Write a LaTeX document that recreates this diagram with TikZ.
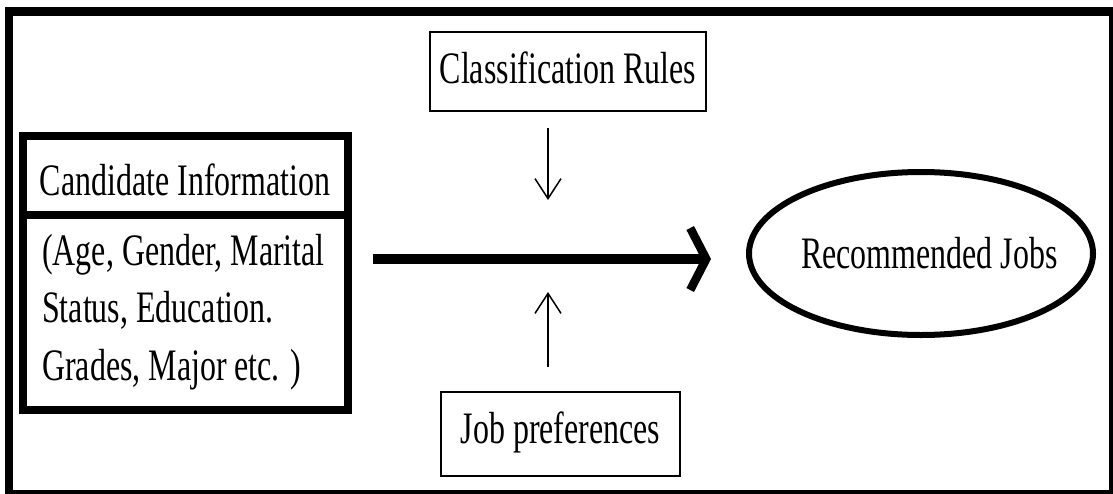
\documentclass[tikz,border=0pt]{standalone}
\usepackage{fontspec}
\setmainfont{Liberation Serif}[FakeStretch=0.71]
\usetikzlibrary{arrows.meta,shapes.geometric}
\begin{document}
\begin{tikzpicture}[x=1pt,y=-1pt,
  lbl/.style={font=\fontsize{45}{57.5}\selectfont},
  thinbox/.style={draw, line width=2pt, inner sep=0pt, lbl},
  thickbox/.style={draw, line width=8pt, inner sep=0pt, lbl},
  feed/.style={line width=1.5pt, -{Straight Barb[length=20pt,width=26pt]}},
  flow/.style={line width=10pt, -{Straight Barb[length=16pt,width=62pt,line width=8.5pt,sharp]}}
]
\useasboundingbox (0,0) rectangle (1113,493);
\clip (0,0) rectangle (1113,493);

% outer frame
\draw[line width=8.5pt] (9,11.5) rectangle (1113,494.5);

% candidate block: header and attribute list
\node[thickbox, minimum width=325pt, minimum height=78.5pt,
      text height=39.5pt, text depth=0pt] (candHead) at (185,175.25) {Candidate Information};
\node[thickbox, minimum width=325pt, minimum height=195.5pt] (candBody) at (185,312.25) {};
% base anchor of a multi-line node sits on its last line
\node[lbl, anchor=base west, align=left, inner sep=0pt] (candText) at (42,380)
  {(Age, Gender, Marital\\Status, Education.\\Grades, Major etc. )};

% side inputs
\node[thinbox, minimum width=276pt, minimum height=79pt,
      text height=30pt, text depth=7pt] (rules) at (568,71.5) {Classification Rules};
\node[thinbox, minimum width=239pt, minimum height=84pt,
      text height=30pt, text depth=12pt] (prefs) at (560.5,434) {Job preferences};

% result
\node[draw, ellipse, line width=6pt, inner sep=0pt, minimum width=344pt, minimum height=163pt]
  (jobs) at (921,253.5) {};
\node[lbl, anchor=base, inner sep=0pt] (jobsText) at (929.5,268) {Recommended Jobs};

% connectors
\coordinate (flowStart) at (373,259);
\coordinate (flowEnd) at (711,259);
\draw[flow] (flowStart) -- (flowEnd);

\coordinate (rulesIn) at (548,128);
\coordinate (rulesOut) at (548,200);
\draw[feed] (rulesIn) -- (rulesOut);

\coordinate (prefsIn) at (548,367);
\coordinate (prefsOut) at (548,292);
\draw[feed] (prefsIn) -- (prefsOut);
\end{tikzpicture}
\end{document}
